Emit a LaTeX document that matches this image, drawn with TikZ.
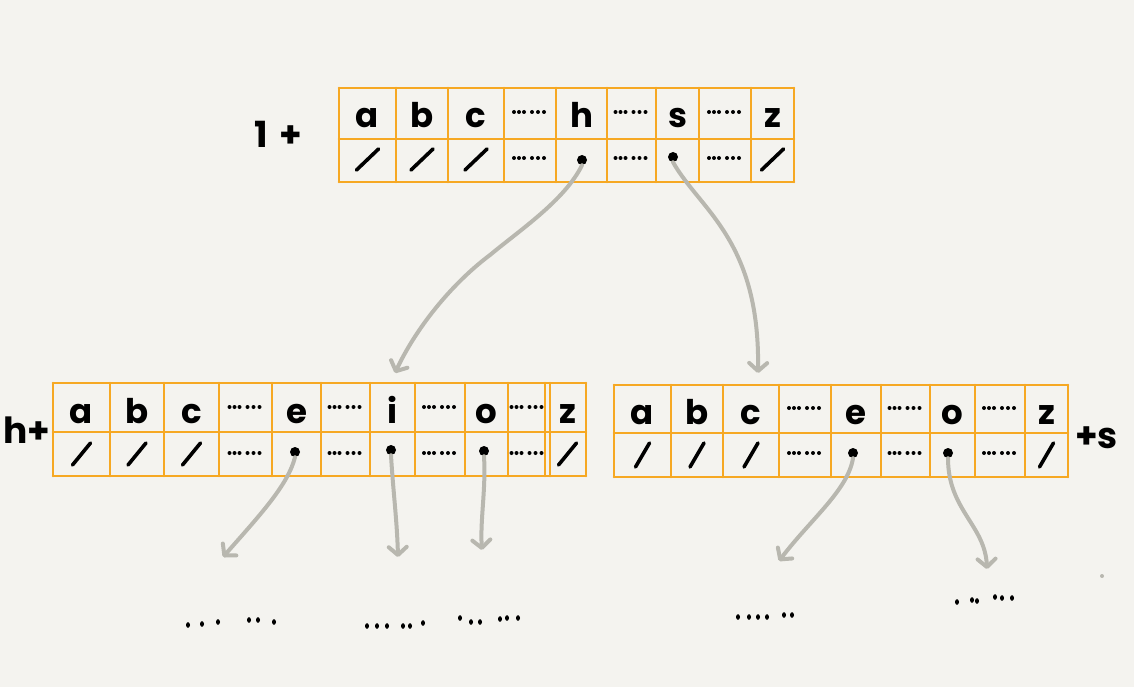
\documentclass[tikz,border=0pt]{standalone}
\usepackage{fontspec}
\setmainfont{Poppins}
\usetikzlibrary{arrows.meta}
\definecolor{bg}{HTML}{F4F3EF}
\definecolor{gridc}{HTML}{F6A823}
\definecolor{arrc}{HTML}{B8B7AF}
\newcommand\cellDots[2]{\foreach \d in {-16,-11,-6,2,8,14}{\fill (#1,#2) ++(\d,0) circle (2pt);}}
\begin{document}
\begin{tikzpicture}[x=1pt,y=-1pt,
  gridline/.style={draw=gridc,line width=2.6pt,line cap=round},
  letter/.style={font=\fontsize{34}{34}\selectfont\bfseries,anchor=base,inner sep=0pt},
  lbl/.style={font=\fontsize{36}{36}\selectfont\bfseries,inner sep=0pt},
  ptr/.style={circle,fill=black,inner sep=0pt,minimum size=10pt},
  slashmk/.style={line width=3.6pt,line cap=round},
  link/.style={draw=arrc,line width=4pt,line cap=round,-{Straight Barb[length=8pt,width=18pt,round]}},
  blot/.style={fill=black}
]
\fill[bg] (0,0) rectangle (1134,687);
\useasboundingbox (0,0) rectangle (1134,687);

% ---------- top table ----------
\foreach \x in {339,396,448,504,556,607,656,699,751,794} \draw[gridline] (\x,88) -- (\x,182);
\foreach \y in {88,139,182} \draw[gridline] (339,\y) -- (794,\y);
\foreach \x/\t in {367.5/a,422/b,476/c,581.5/h,677.5/s,772.5/z} \node[letter] (T\t) at (\x,128) {\t};
\foreach \x in {530,631.5,725} {\cellDots{\x}{112}\cellDots{\x}{158}}
\foreach \x in {367.5,422,476,772.5} \draw[slashmk] (\x-11,170) -- (\x+11,149);
\node[ptr] (Th) at (582,160) {};
\node[ptr] (Ts) at (673,157) {};
\node[lbl,anchor=base west] (Tlbl) at (254,148) {1\,\,+};

% ---------- lower-left table (h+) ----------
\foreach \x in {53,110,164,219,272,321,370,415,465,508,545,550,586} \draw[gridline] (\x,383) -- (\x,476);
\foreach \y in {383,432,476} \draw[gridline] (53,\y) -- (586,\y);
\foreach \x/\t in {81.5/a,137/b,191.5/c,296.5/e,392.5/i,486.5/o,567.5/z} \node[letter] (L\t) at (\x,423) {\t};
\foreach \x in {245.5,345.5,440,527.5} {\cellDots{\x}{407}\cellDots{\x}{453}}
\foreach \x in {81.5,137,191.5,567.5} \draw[slashmk] (\x-9,465) -- (\x+9,443);
\node[ptr] (Le) at (295,452) {};
\node[ptr] (Li) at (391,450) {};
\node[ptr] (Lo) at (484,451) {};
\node[lbl,anchor=base west] (Llbl) at (3,443) {h+};

% ---------- lower-right table (+s) ----------
\foreach \x in {614,671,723,779,831,881,930,975,1025,1068} \draw[gridline] (\x,385) -- (\x,477);
\foreach \y in {385,433,477} \draw[gridline] (614,\y) -- (1068,\y);
\foreach \x/\t in {642.5/a,697/b,751/c,856/e,952.5/o,1046.5/z} \node[letter] (R\t) at (\x,424) {\t};
\foreach \x in {805,905.5,1000} {\cellDots{\x}{408}\cellDots{\x}{453}}
\foreach \x in {642.5,697,751,1046.5} \draw[slashmk] (\x-7,467) -- (\x+7,443);
\node[ptr] (Re) at (853,453) {};
\node[ptr] (Ro) at (948,453) {};
\node[lbl,anchor=base west] (Rlbl) at (1075,448) {+s};

% ---------- arrow tips ----------
\coordinate (TLtip) at (395,373);
\coordinate (TRtip) at (758,373);
\coordinate (Letip) at (223,557);
\coordinate (Litip) at (398,557);
\coordinate (Lotip) at (482,550);
\coordinate (Retip) at (779,561);
\coordinate (Rotip) at (987,569);

% ---------- connectors ----------
\draw[link] (Th.south) .. controls (565,200) and (520,230) .. (490,255)
            .. controls (450,285) and (415,330) .. (TLtip);
\draw[link] (Ts.south) .. controls (700,210) and (760,240) .. (TRtip);
\draw[link] (Le.south) .. controls (288,485) and (260,515) .. (Letip);
\draw[link] (Li.south) .. controls (393,490) and (397,520) .. (Litip);
\draw[link] (Lo.south) .. controls (486,490) and (480,520) .. (Lotip);
\draw[link] (Re.south) .. controls (848,490) and (810,520) .. (Retip);
\draw[link] (Ro.south) .. controls (948,510) and (985,525) .. (Rotip);

% ---------- trailing dots ----------
\foreach \p in {(188,625),(202,624),(218,622),(249,620),(258,620),(274,622),
                (367,626),(377,626),(387,626),(403,626),(410,626),(423,623),
                (460,618),(471,622),(480,622),(500,619),(507,618),(518,618),
                (738,617),(749,617),(758,617),(767,617),(784,615),(792,615),
                (957,602),(972,600),(977,601),(995,597),(1002,598),(1012,598)}
  \fill[blot] \p ellipse (2pt and 2.8pt);
\fill[arrc] (1102,576) circle (2pt);
\end{tikzpicture}
\end{document}
